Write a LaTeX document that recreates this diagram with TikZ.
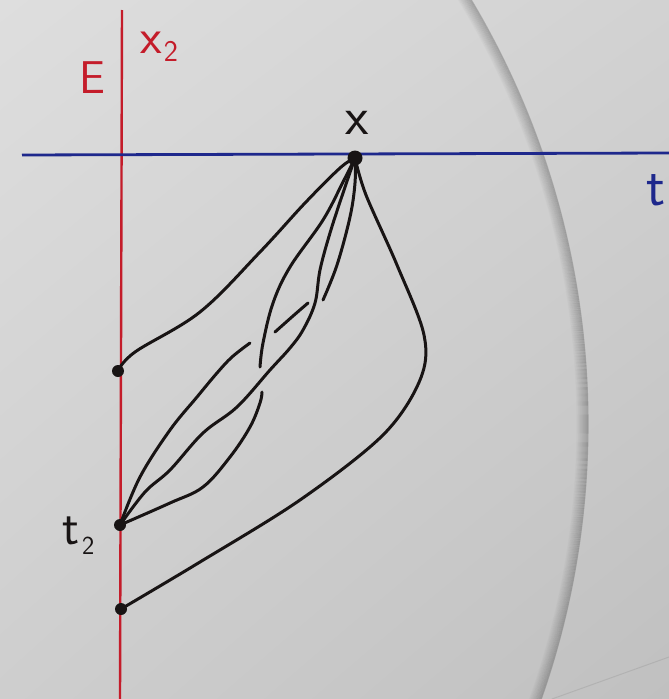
\documentclass[tikz,border=0pt]{standalone}
\usetikzlibrary{shadings}
\definecolor{penred}{RGB}{196,28,42}
\definecolor{penblue}{RGB}{30,40,140}
\definecolor{ink}{RGB}{24,20,20}
\definecolor{bgUL}{RGB}{222,222,222}
\definecolor{bgUR}{RGB}{210,210,210}
\definecolor{bgLL}{RGB}{206,206,206}
\definecolor{bgLR}{RGB}{192,192,192}
\begin{document}
\begin{tikzpicture}[x=1pt,y=-1pt,
  curve/.style={draw=ink, line width=3pt, line cap=round, line join=round},
  dotnode/.style={circle, fill=ink, inner sep=0pt, minimum size=12pt},
  lbl/.style={inner sep=0pt}]
\useasboundingbox (0,0) rectangle (669,699);
\shade[upper left=bgUL, upper right=bgUR, lower left=bgLL, lower right=bgLR] (0,0) rectangle (669,699);
% big arc with shadow
\begin{scope}
  \clip (0,0) rectangle (669,699);
  \foreach \i in {0,...,11}{
    \pgfmathsetmacro{\op}{0.2*(1-\i/12)}
    \draw[black, opacity=\op, line width=1.1pt] (-240,424) circle[radius={(828-\i)*1pt}];
  }
  \draw[black, opacity=0.08, line width=1pt] (552,699) -- (669,657);
\end{scope}
% axes
\coordinate (Etop) at (122,10);
\coordinate (Ebot) at (120,699);
\coordinate (tl) at (22,155);
\coordinate (tr) at (669,153);
\draw[penred, line width=2.4pt] (Etop) -- (Ebot);
\draw[penblue, line width=2.8pt] (tl) -- (tr);
% points
\node[dotnode, minimum size=15pt] (X) at (355,158) {};
\node[dotnode] (a) at (118,371) {};
\node[dotnode] (t2) at (120,525) {};
\node[dotnode] (b) at (121,609) {};
% gap coordinates
\coordinate (Lg1) at (262,392);
\coordinate (Lg2) at (260,367);
\coordinate (Ug1) at (250,343);
\coordinate (Ug2) at (275,332);
\coordinate (Ug3) at (308,303);
\coordinate (Ug4) at (323,300);
% curves
\draw[curve] plot[smooth, tension=0.6] coordinates {(a.center) (135,352) (200,312) (260,252) (305,203) (340,168) (X.center)};
\draw[curve] plot[smooth, tension=0.6] coordinates {(t2.center) (170,503) (203,487) (230,457) (250,427) (260,403) (Lg1)};
\draw[curve] plot[smooth, tension=0.6] coordinates {(Lg2) (263,343) (273,303) (290,267) (323,220) (343,182) (X.center)};
\draw[curve] plot[smooth, tension=0.6] coordinates {(t2.center) (145,492) (170,470) (203,433) (237,407) (270,370) (290,348) (303,330) (315,303) (320,270) (330,233) (343,193) (X.center)};
\draw[curve] plot[smooth, tension=0.6] coordinates {(t2.center) (140,477) (170,430) (197,397) (217,373) (232,357) (Ug1)};
\draw[curve] plot[smooth, tension=0.6] coordinates {(Ug2) (293,316) (Ug3)};
\draw[curve] plot[smooth, tension=0.6] coordinates {(Ug4) (337,265) (350,217) (355,183) (X.center)};
\draw[curve] plot[smooth, tension=0.55] coordinates {(b.center) (200,562) (300,500) (383,435) (420,380) (424,335) (397,265) (366,195) (X.center)};
% labels
\node[lbl, text=penred, font=\sffamily\fontsize{46}{46}\selectfont, anchor=base] (E) at (92,93) {E};
\node[lbl, text=penred, font=\sffamily\fontsize{50}{50}\selectfont, anchor=base west] (x2) at (140,53) {x\hspace{2pt}\raisebox{-8pt}{\fontsize{30}{30}\selectfont 2}};
\node[lbl, text=ink, font=\sffamily\fontsize{54}{54}\selectfont, anchor=base] (xl) at (357,134) {x};
\node[lbl, text=penblue, font=\sffamily\fontsize{56}{56}\selectfont, anchor=base] (tlab) at (656,205) {t};
\node[lbl, text=ink, font=\sffamily\fontsize{50}{50}\selectfont, anchor=base west] (t2lab) at (62,544) {t\hspace{3pt}\raisebox{-10pt}{\fontsize{26}{26}\selectfont 2}};
\end{tikzpicture}
\end{document}
